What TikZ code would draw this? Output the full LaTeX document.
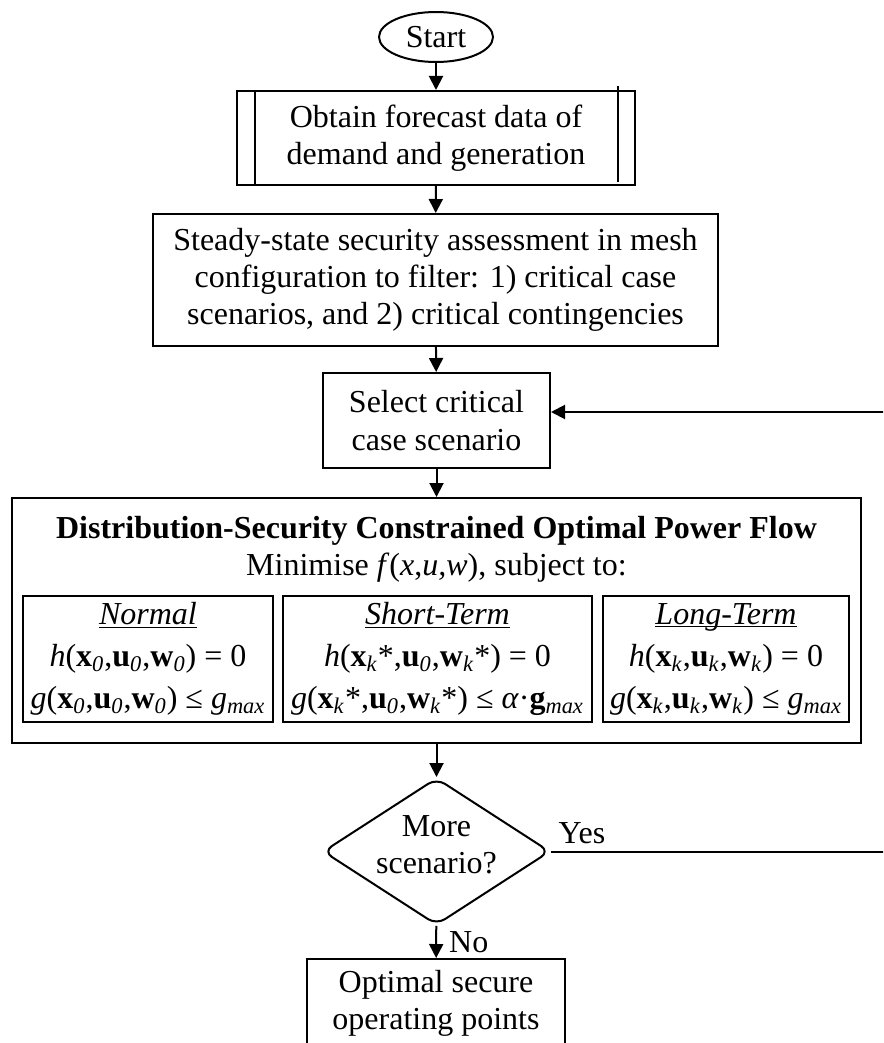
\documentclass[tikz,border=0pt]{standalone}
\usepackage{fontspec}
\setmainfont{Liberation Serif}
\usetikzlibrary{shapes.geometric,arrows.meta}
\newcommand{\lowi}[1]{\textsubscript{\textit{#1}}}
\newcommand{\casetitle}[1]{\underline{\raisebox{0pt}[\height][0pt]{\textit{#1}}}}

\begin{document}
\begin{tikzpicture}[x=0.5pt,y=-0.5pt,
  font=\fontsize{16}{18.6}\selectfont,
  box/.style={draw,line width=1pt,align=center,inner sep=0pt},
  casebox/.style={box,minimum height=63pt,font=\fontsize{16}{21}\selectfont},
  flow/.style={line width=1pt,-{Triangle[length=7pt,width=7pt]}}]
  \useasboundingbox (0,0) rectangle (883,1043);
  \clip (0,0) rectangle (883,1043);
  % main column
  \node[box,ellipse,minimum width=57pt,minimum height=25pt] (start) at (436,37) {Start};
  \node[box,minimum width=199pt,minimum height=47pt] (obtain) at (436,138) {Obtain forecast data of\\demand and generation};
  \draw[line width=1pt] ([xshift=9.5pt]obtain.north west) -- ([xshift=9.5pt]obtain.south west);
  \draw[line width=1pt] ([xshift=-9pt,yshift=2pt]obtain.north east) -- ([xshift=-9pt,yshift=2pt]obtain.south east);
  \node[box,minimum width=282.5pt,minimum height=66pt] (steady) at (435.5,280) {Steady-state security assessment in mesh\\configuration to filter: 1) critical case\\scenarios, and 2) critical contingencies};
  \node[box,minimum width=113.5pt,minimum height=47.5pt] (select) at (436.5,420.5) {Select critical\\case scenario};
  % optimisation block
  \node[box,minimum width=424.5pt,minimum height=122.5pt] (dsopf) at (436.5,620.5) {};
  \node[align=center,inner sep=0pt] (title) at (436.5,549) {\textbf{Distribution-Security Constrained Optimal Power Flow}\\Minimise \textit{f}(\textit{x},\textit{u,w}), subject to:};
  \node[casebox,minimum width=125pt] (normal) at (148,659) {\casetitle{Normal}\\
    \textit{h}(\textbf{x}\lowi{0},\textbf{u}\lowi{0},\textbf{w}\lowi{0}) = 0\\
    \textit{g}(\textbf{x}\lowi{0},\textbf{u}\lowi{0},\textbf{w}\lowi{0}) ≤ \textit{g}\lowi{max}};
  \node[casebox,minimum width=154.5pt] (short) at (437.5,659) {\casetitle{Short-Term}\\
    \textit{h}(\textbf{x}\lowi{k}*,\textbf{u}\lowi{0},\textbf{w}\lowi{k}*) = 0\\
    \textit{g}(\textbf{x}\lowi{k}*,\textbf{u}\lowi{0},\textbf{w}\lowi{k}*) ≤ \textit{α}·\textbf{g}\lowi{max}};
  \node[casebox,minimum width=123pt] (long) at (726,659) {\casetitle{Long-Term}\\
    \textit{h}(\textbf{x}\lowi{k},\textbf{u}\lowi{k},\textbf{w}\lowi{k}) = 0\\
    \textit{g}(\textbf{x}\lowi{k},\textbf{u}\lowi{k},\textbf{w}\lowi{k}) ≤ \textit{g}\lowi{max}};
  % decision and end
  \node[box,diamond,rounded corners=5pt,minimum width=113.5pt,minimum height=73.5pt,
    label={[align=center,yshift=3.5pt]center:More\\scenario?}] (more) at (436.5,851.5) {};
  \node[box,minimum width=129pt,minimum height=44pt] (result) at (436,1003) {Optimal secure\\operating points};
  \coordinate (back) at (900,412);
  % connectors
  \draw[flow] (start) -- (obtain);
  \draw[flow] (obtain) -- (steady);
  \draw[flow] (steady) -- (select);
  \draw[flow] (select) -- (dsopf);
  \draw[flow] (dsopf) -- (more);
  \draw[flow] (more) -- node[anchor=west,inner sep=2pt,xshift=4pt] {No} (result);
  \draw[flow] (more.east) -- node[pos=0,anchor=south west] {Yes} (more.east -| back) -- (back) -- (back -| select.east);
\end{tikzpicture}
\end{document}
